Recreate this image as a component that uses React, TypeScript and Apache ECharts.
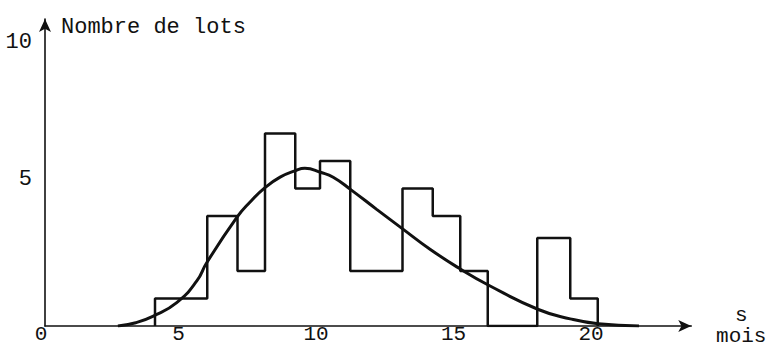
import React, { useEffect, useRef } from "react";
import * as echarts from "echarts";

// Class boundaries (months) and number of lots in each class
const binEdges = [4, 5.9, 7, 8, 9.1, 10, 11.1, 13, 14.1, 15.1, 16.1, 17.9, 19.1, 20.1];
const binCounts = [1, 4, 2, 7, 5, 6, 2, 5, 4, 2, 0, 3.2, 1];

// Fitted density curve, sampled points (months, lots)
const curveX = [2.65, 3.3, 3.94, 4.79, 5.52, 5.88, 6.97, 7.45, 8.0, 8.55, 9.09, 9.45, 10.04, 10.48, 11.13, 12.06, 12.98, 14.0, 15.09, 16.1, 17.94, 19.1, 20.12, 21.6];
const curveY = [0, 0.12, 0.36, 0.85, 1.64, 2.3, 3.94, 4.5, 5.03, 5.41, 5.64, 5.73, 5.58, 5.41, 4.95, 4.24, 3.55, 2.79, 2.08, 1.5, 0.6, 0.26, 0.08, 0];

const xTickLabels = ["0", "5", "10", "15", "20"];
const yTickLabels = ["5", "10"];

const FONT = "'Liberation Mono', 'Courier New', monospace";
const INK = "#111";

function histogramOutline(): number[][] {
  const pts: number[][] = [[binEdges[0], 0]];
  for (let i = 0; i < binCounts.length; i++) {
    pts.push([binEdges[i], binCounts[i]]);
    pts.push([binEdges[i + 1], binCounts[i]]);
  }
  pts.push([binEdges[binEdges.length - 1], 0]);
  return pts;
}

export default function App() {
  const ref = useRef<HTMLDivElement>(null);

  useEffect(() => {
    if (!ref.current) return;
    const chart = echarts.init(ref.current, undefined, { renderer: "svg" });
    chart.setOption({
      animation: false,
      backgroundColor: "#fff",
      grid: {
        left: 45,
        right: 76.75,
        top: 19,
        bottom: 21,
        containLabel: false,
        outerBoundsMode: "none",
      },
      xAxis: {
        type: "value",
        min: 0,
        max: 23.5,
        interval: 5,
        name: "s\nmois",
        nameLocation: "end",
        nameGap: 50,
        nameTextStyle: {
          fontFamily: FONT,
          fontSize: 21,
          color: INK,
          align: "center",
          verticalAlign: "middle",
          lineHeight: 21,
          padding: [6, 0, 0, 0],
        },
        axisLine: {
          show: true,
          symbol: ["none", "arrow"],
          symbolSize: [9, 13],
          lineStyle: { color: INK, width: 1.6 },
        },
        axisTick: { show: false },
        splitLine: { show: false },
        axisLabel: {
          margin: 0,
          lineHeight: 16,
          padding: [0, 8, 0, 0],
          fontFamily: FONT,
          fontSize: 21,
          color: INK,
          formatter: (v: number) => {
            const s = String(v);
            return xTickLabels.includes(s) ? s : "";
          },
        },
      },
      yAxis: {
        type: "value",
        min: 0,
        max: 11.16,
        interval: 5,
        name: "Nombre de lots",
        nameLocation: "end",
        nameGap: -8,
        nameTextStyle: {
          fontFamily: FONT,
          fontSize: 22,
          color: INK,
          align: "left",
          verticalAlign: "middle",
          padding: [0, 0, 0, 16],
        },
        axisLine: {
          show: true,
          symbol: ["none", "arrow"],
          symbolSize: [9, 13],
          lineStyle: { color: INK, width: 1.6 },
        },
        axisTick: { show: false },
        splitLine: { show: false },
        axisLabel: {
          margin: 13,
          verticalAlign: "bottom",
          lineHeight: 17,
          fontFamily: FONT,
          fontSize: 22,
          color: INK,
          formatter: (v: number) => {
            const s = String(v);
            return yTickLabels.includes(s) ? s : "";
          },
        },
      },
      series: [
        {
          type: "line",
          data: histogramOutline(),
          symbol: "none",
          lineStyle: { color: INK, width: 2.5 },
          silent: true,
        },
        {
          type: "line",
          data: curveX.map((x, i) => [x, curveY[i]]),
          smooth: true,
          symbol: "none",
          lineStyle: { color: INK, width: 3 },
          silent: true,
        },
      ],
    });
    return () => chart.dispose();
  }, []);

  return (
    <div
      ref={ref}
      style={{ position: "fixed", left: 0, top: 0, width: 768, height: 347, background: "#fff" }}
    />
  );
}
